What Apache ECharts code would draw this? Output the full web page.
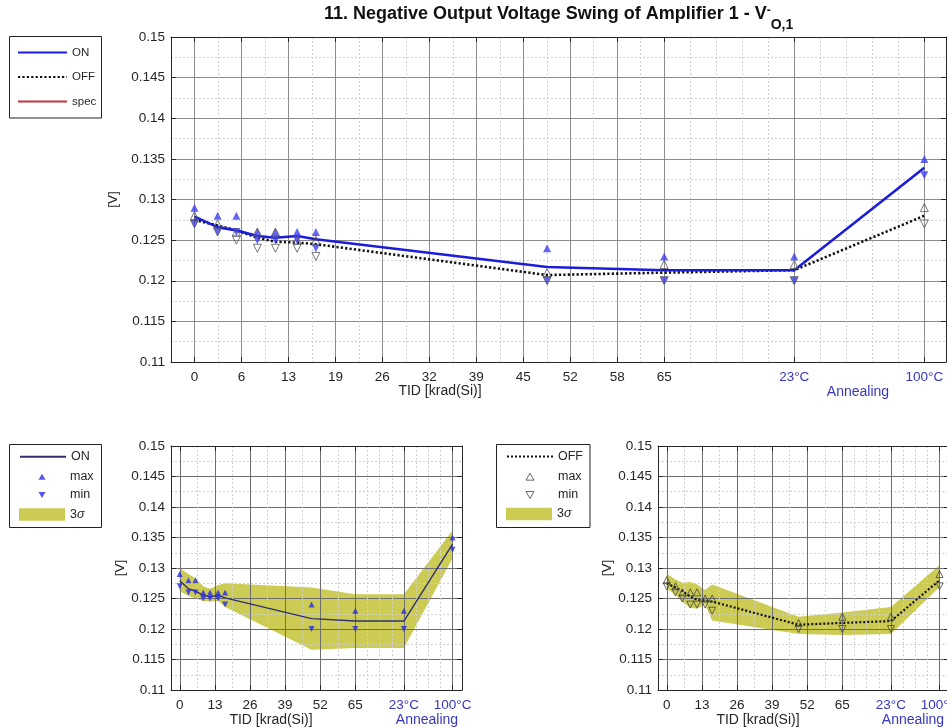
<!DOCTYPE html>
<html><head><meta charset="utf-8">
<script src="https://cdn.jsdelivr.net/npm/echarts@6/dist/echarts.min.js"></script>
<style>html,body{margin:0;padding:0;background:#fff}#c{width:947px;height:728px}</style>
</head><body><div id="c"></div>
<script>
// ---------- data ----------
// x positions: TID steps (krad) then the two annealing steps (23°C, 100°C) placed at 83 / 101 on the axis
const tid      = [0, 3.2, 5.8, 8.7, 11.2, 14.2, 16.8, 48.8, 65, 83, 101];
const onMean   = [0.1279, 0.1266, 0.1262, 0.1255, 0.1253, 0.1255, 0.1251, 0.1217, 0.1213, 0.1213, 0.1339];
const onMax    = [0.129, 0.128, 0.128, 0.126, 0.126, 0.126, 0.126, 0.124, 0.123, 0.123, 0.135];
const onMin    = [0.127, 0.126, 0.126, 0.125, 0.125, 0.125, 0.124, 0.120, 0.120, 0.120, 0.133];
const offMean  = [0.1275, 0.1268, 0.1262, 0.1253, 0.1248, 0.1247, 0.1245, 0.1207, 0.1210, 0.1213, 0.1280];
const offMax   = [0.128, 0.127, 0.126, 0.126, 0.126, 0.125, 0.125, 0.121, 0.122, 0.122, 0.129];
const offMin   = [0.127, 0.126, 0.125, 0.124, 0.124, 0.124, 0.123, 0.120, 0.120, 0.120, 0.127];
const onBandHi  = [0.1300, 0.1290, 0.1283, 0.1270, 0.1266, 0.1272, 0.1275, 0.1268, 0.1257, 0.1257, 0.1362];
const onBandLo  = [0.1262, 0.1254, 0.1250, 0.1246, 0.1245, 0.1246, 0.1236, 0.1166, 0.1169, 0.1169, 0.1316];
const offBandHi = [0.1290, 0.1281, 0.1276, 0.1277, 0.1273, 0.1264, 0.1273, 0.1220, 0.1227, 0.1236, 0.1305];
const offBandLo = [0.1266, 0.1256, 0.1244, 0.1235, 0.1233, 0.1240, 0.1214, 0.1192, 0.1190, 0.1192, 0.1269];
const specData  = []; // spec limit lies outside the plotted range

// ---------- ticks ----------
const topTickValues = [0, 6.5, 13, 19.5, 26, 32.5, 39, 45.5, 52, 58.5, 65, 83, 101];
const topTickLabels = ['0','6','13','19','26','32','39','45','52','58','65','23°C','100°C'];
const topMinorValues = [3.25, 9.75, 16.25, 22.75, 29.25, 35.75, 42.25, 48.75, 55.25, 61.75, 68.6, 72.2, 75.8, 79.4, 86.6, 90.2, 93.8, 97.4];
const botTickValues = [0, 13, 26, 39, 52, 65, 83, 101];
const botTickLabels = ['0','13','26','39','52','65','23°C','100°C'];
const botMinorValues = [6.5, 19.5, 32.5, 45.5, 58.5, 69.5, 74, 78.5, 87.5, 92, 96.5];
const Y_MIN = 0.11, Y_MAX = 0.15, Y_STEP = 0.005;
const X_MIN = -3.25, X_MAX_TOP = 104, X_MAX_BOT = 104.5;

// ---------- styles ----------
const FONT = 'Liberation Sans, Arial, sans-serif';
const TXT = '#262626';
const BLUE_TXT = '#3636c0';
const BAND = '#cccc55';
const TRI_UP = 'path://M5,0L10,8.66L0,8.66Z';
const TRI_DOWN = 'path://M0,0L10,0L5,8.66Z';

const chart = echarts.init(document.getElementById('c'), null, {renderer: 'canvas'});

const grids = [
  {left: 171, top: 37, width: 775, height: 325},
  {left: 171, top: 446, width: 291, height: 244},
  {left: 658, top: 446, width: 291, height: 244}
];

const xAxes = [], yAxes = [];
function addAxes(gi, vals, labels, minor, xMax, majorColor, yNameGap) {
  const fmt = v => {
    const i = vals.findIndex(t => Math.abs(t - v) < 1e-6);
    const s = i >= 0 ? labels[i] : '';
    return s.indexOf('°') >= 0 ? '{a|' + s + '}' : s;
  };
  xAxes.push({
    type: 'value', gridIndex: gi, min: X_MIN, max: xMax, position: 'bottom',
    axisLine: {show: true, onZero: false, lineStyle: {color: TXT, width: 1}},
    axisTick: {show: true, inside: true, length: 5, customValues: vals, lineStyle: {color: TXT}},
    axisLabel: {customValues: vals, formatter: fmt, fontSize: 13.5, fontFamily: FONT, color: TXT, margin: 8,
      rich: {a: {color: BLUE_TXT, fontSize: 13.5, fontFamily: FONT}}},
    splitLine: {show: true, lineStyle: {color: majorColor, width: 1}}
  });
  xAxes.push({
    type: 'value', gridIndex: gi, min: X_MIN, max: xMax, position: 'top',
    axisLine: {show: true, onZero: false, lineStyle: {color: TXT, width: 1}},
    axisTick: {show: true, inside: true, length: 5, customValues: vals, lineStyle: {color: TXT}},
    axisLabel: {show: false}, splitLine: {show: false}
  });
  xAxes.push({
    type: 'value', gridIndex: gi, min: X_MIN, max: xMax,
    axisLine: {show: false, onZero: false}, axisTick: {show: false, customValues: minor},
    axisLabel: {show: false},
    splitLine: {show: true, lineStyle: {color: '#cfcfcf', width: 1, type: [2, 2]}}
  });
  yAxes.push({
    type: 'value', gridIndex: gi, min: Y_MIN, max: Y_MAX, interval: Y_STEP, position: 'left',
    name: '[V]', nameLocation: 'middle', nameGap: yNameGap,
    nameTextStyle: {fontSize: 13.5, fontFamily: FONT, color: TXT},
    axisLine: {show: true, onZero: false, lineStyle: {color: TXT, width: 1}},
    axisTick: {show: true, inside: true, length: 5, lineStyle: {color: TXT}},
    axisLabel: {fontSize: 13.5, fontFamily: FONT, color: TXT, margin: 6},
    splitLine: {show: true, lineStyle: {color: majorColor, width: 1}},
    minorTick: {show: false, splitNumber: 2},
    minorSplitLine: {show: true, lineStyle: {color: '#cfcfcf', width: 1, type: [2, 2]}}
  });
  yAxes.push({
    type: 'value', gridIndex: gi, min: Y_MIN, max: Y_MAX, interval: Y_STEP, position: 'right',
    axisLine: {show: true, onZero: false, lineStyle: {color: TXT, width: 1}},
    axisTick: {show: true, inside: true, length: 5, lineStyle: {color: TXT}},
    axisLabel: {show: false}, splitLine: {show: false}
  });
}
addAxes(0, topTickValues, topTickLabels, topMinorValues, X_MAX_TOP, '#8c8c8c', 38);
addAxes(1, botTickValues, botTickLabels, botMinorValues, X_MAX_BOT, '#6e6e6e', 44);
addAxes(2, botTickValues, botTickLabels, botMinorValues, X_MAX_BOT, '#6e6e6e', 40);

const pairs = arr => tid.map((x, i) => [x, arr[i]]);

function lineSeries(name, arr, xi, yi, color, width, dash) {
  return {name, type: 'line', xAxisIndex: xi, yAxisIndex: yi, data: pairs(arr),
    symbol: 'none', color, lineStyle: {color, width, type: dash || 'solid'}, z: 3};
}
function markSeries(name, arr, xi, yi, down, size, filled, color) {
  return {name, type: 'scatter', xAxisIndex: xi, yAxisIndex: yi, data: pairs(arr),
    symbol: 'triangle', symbolSize: size, symbolRotate: down ? 180 : 0, z: 4,
    itemStyle: filled ? {color} : {color: 'rgba(255,255,255,0)', borderColor: color, borderWidth: 1}};
}
function bandSeries(name, hi, lo, xi, yi) {
  return {name, type: 'custom', xAxisIndex: xi, yAxisIndex: yi, z: -1,
    itemStyle: {color: BAND}, data: [[tid[0], hi[0]]], encode: {x: 0, y: 1},
    renderItem: (params, api) => {
      const pts = [];
      for (let i = 0; i < tid.length; i++) pts.push(api.coord([tid[i], hi[i]]));
      for (let i = tid.length - 1; i >= 0; i--) pts.push(api.coord([tid[i], lo[i]]));
      return {type: 'polygon', shape: {points: pts}, style: {fill: BAND}};
    }};
}

const series = [
  // top chart
  {name: 'spec', type: 'line', xAxisIndex: 0, yAxisIndex: 0, data: specData, symbol: 'none',
   color: '#c8323c', lineStyle: {color: '#c8323c', width: 2.5}},
  lineSeries('OFF', offMean, 0, 0, '#111111', 2.6, [2.2, 2.2]),
  lineSeries('ON', onMean, 0, 0, '#1c1cd9', 2.6),
  markSeries('top ON max', onMax, 0, 0, false, 8, true, '#3d3df2'),
  markSeries('top ON min', onMin, 0, 0, true, 8, true, '#3d3df2'),
  markSeries('top OFF max', offMax, 0, 0, false, 8, false, '#555555'),
  markSeries('top OFF min', offMin, 0, 0, true, 8, false, '#555555'),
  // bottom-left
  bandSeries('b ON 3s', onBandHi, onBandLo, 3, 2),
  lineSeries('b ON', onMean, 3, 2, '#303070', 1.4),
  markSeries('b ON max', onMax, 3, 2, false, 6, true, '#2a2ae6'),
  markSeries('b ON min', onMin, 3, 2, true, 6, true, '#2a2ae6'),
  // bottom-right
  bandSeries('b OFF 3s', offBandHi, offBandLo, 6, 4),
  lineSeries('b OFF', offMean, 6, 4, '#111111', 2.2, [2, 2]),
  markSeries('b OFF max', offMax, 6, 4, false, 7, false, '#444444'),
  markSeries('b OFF min', offMin, 6, 4, true, 7, false, '#444444')
];

const legendText = {
  'ON': 'ON', 'OFF': 'OFF', 'spec': 'spec',
  'b ON': 'ON', 'b ON max': 'max', 'b ON min': 'min', 'b ON 3s': '3{i|σ}',
  'b OFF': 'OFF', 'b OFF max': 'max', 'b OFF min': 'min', 'b OFF 3s': '3{i|σ}'
};
function legTextStyle(size, spacer) {
  return {fontSize: size, fontFamily: FONT, color: TXT, lineHeight: 14,
    rich: {i: {fontStyle: 'italic', fontSize: size, fontFamily: FONT, color: TXT, lineHeight: 14},
           s: {width: spacer || 0, lineHeight: 14}}};
}
function legend(left, centerY, item, w, h, spacer) {
  return {left, top: centerY - 7, orient: 'vertical', padding: 0, itemWidth: w, itemHeight: h,
    selectedMode: false, z: 10, textStyle: legTextStyle(12.5, spacer),
    formatter: n => (spacer ? '{s|}' : '') + legendText[n], data: [item]};
}
const hollow = {color: 'rgba(255,255,255,0)', borderColor: '#444444', borderWidth: 1};
const legends = [
  {left: 17, top: 45.5, orient: 'vertical', padding: 0, itemWidth: 49, itemHeight: 14, itemGap: 10.5,
   selectedMode: false, z: 10, textStyle: legTextStyle(11.5),
   formatter: n => legendText[n],
   data: [{name: 'ON', itemStyle: {opacity: 0}}, {name: 'OFF', itemStyle: {opacity: 0}}, {name: 'spec', itemStyle: {opacity: 0}}]},
  legend(19, 456.7, {name: 'b ON', itemStyle: {opacity: 0}}, 46, 12),
  legend(38.5, 476.7, {name: 'b ON max', icon: TRI_UP}, 7, 7, 19.5),
  legend(38.5, 495, {name: 'b ON min', icon: TRI_DOWN}, 7, 7, 19.5),
  legend(19, 514.5, {name: 'b ON 3s', icon: 'rect', itemStyle: {color: BAND}}, 46, 12.4),
  legend(506, 456.5, {name: 'b OFF', itemStyle: {opacity: 0}}, 46, 12),
  legend(525.5, 476.7, {name: 'b OFF max', icon: TRI_UP, itemStyle: hollow}, 8, 8, 19),
  legend(525.5, 495, {name: 'b OFF min', icon: TRI_DOWN, itemStyle: hollow}, 8, 8, 19),
  legend(506, 514, {name: 'b OFF 3s', icon: 'rect', itemStyle: {color: BAND}}, 46, 12.4)
];

const boxStyle = {fill: '#fff', stroke: '#222', lineWidth: 1};
const annotStyle = (text, x, y, color) => ({type: 'text', x, y, z: 5,
  style: {text, fill: color, font: '14px ' + FONT, align: 'center', verticalAlign: 'middle'}});

chart.setOption({
  animation: false,
  backgroundColor: '#ffffff',
  title: {
    text: '{m|11. Negative Output Voltage Swing of Amplifier 1 - V}{sup|-}{sub|O,1}',
    left: 324, top: 5, padding: 0,
    textStyle: {rich: {
      m: {fontSize: 18, fontWeight: 'bold', fontFamily: FONT, color: '#111', lineHeight: 27, verticalAlign: 'top'},
      sup: {fontSize: 12, fontWeight: 'bold', fontFamily: FONT, color: '#111', lineHeight: 14, verticalAlign: 'top'},
      sub: {fontSize: 14, fontWeight: 'bold', fontFamily: FONT, color: '#111', lineHeight: 7, verticalAlign: 'bottom'}
    }}
  },
  grid: grids.map(g => Object.assign({show: true, borderWidth: 0, backgroundColor: 'transparent',
    containLabel: false, outerBoundsMode: 'none'}, g)),
  xAxis: xAxes,
  yAxis: yAxes,
  legend: legends,
  graphic: [
    {type: 'rect', shape: {x: 9.5, y: 36.5, width: 92, height: 81.5}, style: boxStyle, z: 1},
    {type: 'rect', shape: {x: 9.5, y: 444.5, width: 92, height: 83}, style: boxStyle, z: 1},
    {type: 'rect', shape: {x: 496.5, y: 444.5, width: 93.5, height: 83}, style: boxStyle, z: 1},
    annotStyle('TID [krad(Si)]', 440, 391, TXT),
    annotStyle('Annealing', 858, 392, BLUE_TXT),
    annotStyle('TID [krad(Si)]', 271, 720, TXT),
    annotStyle('Annealing', 427, 720, BLUE_TXT),
    annotStyle('TID [krad(Si)]', 758, 720, TXT),
    annotStyle('Annealing', 913, 720, BLUE_TXT)
  ],
  series
});
</script>
</body></html>
